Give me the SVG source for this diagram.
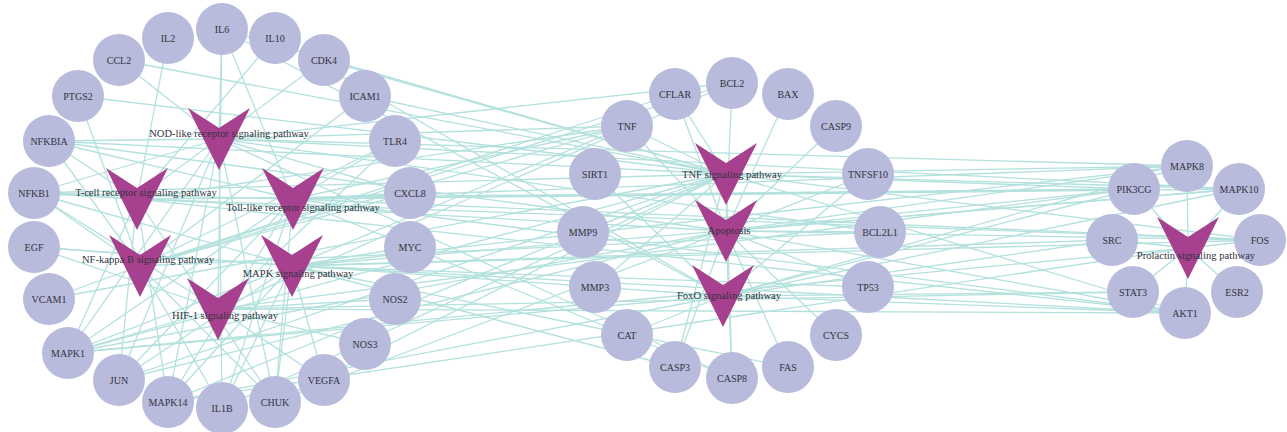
<svg xmlns="http://www.w3.org/2000/svg" xmlns:xlink="http://www.w3.org/1999/xlink" width="1287" height="432" viewBox="0 0 1287 432">
<style>
.e line{stroke:#b3e1dd;stroke-width:1.3;fill:none}
.g circle{fill:#b8bbdc;stroke:none}
.g text{font-family:"Liberation Serif",serif;font-size:10px;fill:#33333d;text-anchor:middle}
.p use{fill:#a7418f}
.p text{font-family:"Liberation Serif",serif;font-size:10.6px;fill:#33333d;text-anchor:middle}
</style>
<defs>
<path id="vee" d="M-31,-31 L0,-11 L31,-31 L0,31 Z" fill="#a7418f"/>
</defs>
<rect width="1287" height="432" fill="#ffffff"/>
<g id="connectors" class="e">
<line x1="222" y1="29" x2="219" y2="139"/><line x1="222" y1="408" x2="219" y2="139"/><line x1="119" y1="60" x2="219" y2="139"/><line x1="410" y1="193" x2="219" y2="139"/><line x1="627" y1="126" x2="219" y2="139"/><line x1="34" y1="193" x2="219" y2="139"/><line x1="49" y1="141" x2="219" y2="139"/><line x1="275" y1="402" x2="219" y2="139"/><line x1="68" y1="353" x2="219" y2="139"/><line x1="168" y1="402" x2="219" y2="139"/><line x1="1187" y1="166" x2="219" y2="139"/><line x1="1239" y1="189" x2="219" y2="139"/><line x1="119" y1="380" x2="219" y2="139"/><line x1="732" y1="83" x2="219" y2="139"/><line x1="880" y1="232" x2="219" y2="139"/><line x1="732" y1="378" x2="219" y2="139"/>
<line x1="168" y1="38" x2="137" y2="199"/><line x1="275" y1="38" x2="137" y2="199"/><line x1="627" y1="126" x2="137" y2="199"/><line x1="34" y1="193" x2="137" y2="199"/><line x1="49" y1="141" x2="137" y2="199"/><line x1="275" y1="402" x2="137" y2="199"/><line x1="68" y1="353" x2="137" y2="199"/><line x1="168" y1="402" x2="137" y2="199"/><line x1="119" y1="380" x2="137" y2="199"/><line x1="1260" y1="240" x2="137" y2="199"/><line x1="1185" y1="313" x2="137" y2="199"/><line x1="1134" y1="189" x2="137" y2="199"/><line x1="324" y1="60" x2="137" y2="199"/>
<line x1="222" y1="29" x2="293" y2="199"/><line x1="222" y1="408" x2="293" y2="199"/><line x1="627" y1="126" x2="293" y2="199"/><line x1="410" y1="193" x2="293" y2="199"/><line x1="395" y1="141" x2="293" y2="199"/><line x1="34" y1="193" x2="293" y2="199"/><line x1="49" y1="141" x2="293" y2="199"/><line x1="275" y1="402" x2="293" y2="199"/><line x1="68" y1="353" x2="293" y2="199"/><line x1="168" y1="402" x2="293" y2="199"/><line x1="1187" y1="166" x2="293" y2="199"/><line x1="1239" y1="189" x2="293" y2="199"/><line x1="119" y1="380" x2="293" y2="199"/><line x1="1260" y1="240" x2="293" y2="199"/><line x1="1185" y1="313" x2="293" y2="199"/><line x1="1134" y1="189" x2="293" y2="199"/><line x1="732" y1="378" x2="293" y2="199"/>
<line x1="627" y1="126" x2="140" y2="266"/><line x1="222" y1="408" x2="140" y2="266"/><line x1="410" y1="193" x2="140" y2="266"/><line x1="395" y1="141" x2="140" y2="266"/><line x1="34" y1="193" x2="140" y2="266"/><line x1="49" y1="141" x2="140" y2="266"/><line x1="275" y1="402" x2="140" y2="266"/><line x1="49" y1="299" x2="140" y2="266"/><line x1="365" y1="96" x2="140" y2="266"/><line x1="78" y1="96" x2="140" y2="266"/><line x1="732" y1="83" x2="140" y2="266"/><line x1="880" y1="232" x2="140" y2="266"/><line x1="675" y1="94" x2="140" y2="266"/>
<line x1="34" y1="247" x2="292" y2="266"/><line x1="627" y1="126" x2="292" y2="266"/><line x1="222" y1="408" x2="292" y2="266"/><line x1="68" y1="353" x2="292" y2="266"/><line x1="1187" y1="166" x2="292" y2="266"/><line x1="1239" y1="189" x2="292" y2="266"/><line x1="168" y1="402" x2="292" y2="266"/><line x1="119" y1="380" x2="292" y2="266"/><line x1="1260" y1="240" x2="292" y2="266"/><line x1="34" y1="193" x2="292" y2="266"/><line x1="275" y1="402" x2="292" y2="266"/><line x1="675" y1="367" x2="292" y2="266"/><line x1="1185" y1="313" x2="292" y2="266"/><line x1="324" y1="380" x2="292" y2="266"/><line x1="410" y1="247" x2="292" y2="266"/><line x1="868" y1="287" x2="292" y2="266"/><line x1="788" y1="367" x2="292" y2="266"/><line x1="1112" y1="240" x2="292" y2="266"/>
<line x1="34" y1="247" x2="218" y2="309"/><line x1="324" y1="380" x2="218" y2="309"/><line x1="395" y1="299" x2="218" y2="309"/><line x1="365" y1="344" x2="218" y2="309"/><line x1="222" y1="29" x2="218" y2="309"/><line x1="395" y1="141" x2="218" y2="309"/><line x1="34" y1="193" x2="218" y2="309"/><line x1="68" y1="353" x2="218" y2="309"/><line x1="1185" y1="313" x2="218" y2="309"/><line x1="1133" y1="292" x2="218" y2="309"/><line x1="732" y1="83" x2="218" y2="309"/><line x1="1134" y1="189" x2="218" y2="309"/>
<line x1="627" y1="126" x2="726" y2="174"/><line x1="222" y1="29" x2="726" y2="174"/><line x1="222" y1="408" x2="726" y2="174"/><line x1="119" y1="60" x2="726" y2="174"/><line x1="365" y1="96" x2="726" y2="174"/><line x1="49" y1="299" x2="726" y2="174"/><line x1="78" y1="96" x2="726" y2="174"/><line x1="583" y1="232" x2="726" y2="174"/><line x1="595" y1="287" x2="726" y2="174"/><line x1="34" y1="193" x2="726" y2="174"/><line x1="49" y1="141" x2="726" y2="174"/><line x1="275" y1="402" x2="726" y2="174"/><line x1="68" y1="353" x2="726" y2="174"/><line x1="1187" y1="166" x2="726" y2="174"/><line x1="1239" y1="189" x2="726" y2="174"/><line x1="168" y1="402" x2="726" y2="174"/><line x1="119" y1="380" x2="726" y2="174"/><line x1="1260" y1="240" x2="726" y2="174"/><line x1="1185" y1="313" x2="726" y2="174"/><line x1="1134" y1="189" x2="726" y2="174"/><line x1="675" y1="367" x2="726" y2="174"/><line x1="732" y1="378" x2="726" y2="174"/><line x1="675" y1="94" x2="726" y2="174"/><line x1="324" y1="60" x2="726" y2="174"/>
<line x1="627" y1="126" x2="726" y2="231"/><line x1="868" y1="174" x2="726" y2="231"/><line x1="788" y1="367" x2="726" y2="231"/><line x1="675" y1="367" x2="726" y2="231"/><line x1="732" y1="378" x2="726" y2="231"/><line x1="836" y1="126" x2="726" y2="231"/><line x1="788" y1="94" x2="726" y2="231"/><line x1="732" y1="83" x2="726" y2="231"/><line x1="880" y1="232" x2="726" y2="231"/><line x1="675" y1="94" x2="726" y2="231"/><line x1="836" y1="335" x2="726" y2="231"/><line x1="868" y1="287" x2="726" y2="231"/><line x1="34" y1="193" x2="726" y2="231"/><line x1="49" y1="141" x2="726" y2="231"/><line x1="275" y1="402" x2="726" y2="231"/><line x1="1185" y1="313" x2="726" y2="231"/><line x1="1134" y1="189" x2="726" y2="231"/><line x1="68" y1="353" x2="726" y2="231"/><line x1="1187" y1="166" x2="726" y2="231"/><line x1="1239" y1="189" x2="726" y2="231"/><line x1="119" y1="380" x2="726" y2="231"/><line x1="1260" y1="240" x2="726" y2="231"/>
<line x1="34" y1="247" x2="723" y2="296"/><line x1="222" y1="29" x2="723" y2="296"/><line x1="275" y1="38" x2="723" y2="296"/><line x1="868" y1="174" x2="723" y2="296"/><line x1="595" y1="174" x2="723" y2="296"/><line x1="627" y1="335" x2="723" y2="296"/><line x1="68" y1="353" x2="723" y2="296"/><line x1="1187" y1="166" x2="723" y2="296"/><line x1="1239" y1="189" x2="723" y2="296"/><line x1="168" y1="402" x2="723" y2="296"/><line x1="1185" y1="313" x2="723" y2="296"/><line x1="1134" y1="189" x2="723" y2="296"/><line x1="1133" y1="292" x2="723" y2="296"/><line x1="1112" y1="240" x2="723" y2="296"/>
<line x1="1187" y1="166" x2="1188" y2="248"/><line x1="1239" y1="189" x2="1188" y2="248"/><line x1="68" y1="353" x2="1188" y2="248"/><line x1="168" y1="402" x2="1188" y2="248"/><line x1="1112" y1="240" x2="1188" y2="248"/><line x1="1260" y1="240" x2="1188" y2="248"/><line x1="1133" y1="292" x2="1188" y2="248"/><line x1="1237" y1="292" x2="1188" y2="248"/><line x1="1185" y1="313" x2="1188" y2="248"/><line x1="1134" y1="189" x2="1188" y2="248"/>
</g>
<g class="g">
<g id="n-IL6"><circle cx="222" cy="29" r="26"/><text x="222" y="32.5">IL6</text></g>
<g id="n-IL10"><circle cx="275" cy="38" r="26"/><text x="275" y="41.5">IL10</text></g>
<g id="n-CDK4"><circle cx="324" cy="60" r="26"/><text x="324" y="63.5">CDK4</text></g>
<g id="n-ICAM1"><circle cx="365" cy="96" r="26"/><text x="365" y="99.5">ICAM1</text></g>
<g id="n-TLR4"><circle cx="395" cy="141" r="26"/><text x="395" y="144.5">TLR4</text></g>
<g id="n-CXCL8"><circle cx="410" cy="193" r="26"/><text x="410" y="196.5">CXCL8</text></g>
<g id="n-MYC"><circle cx="410" cy="247" r="26"/><text x="410" y="250.5">MYC</text></g>
<g id="n-NOS2"><circle cx="395" cy="299" r="26"/><text x="395" y="302.5">NOS2</text></g>
<g id="n-NOS3"><circle cx="365" cy="344" r="26"/><text x="365" y="347.5">NOS3</text></g>
<g id="n-VEGFA"><circle cx="324" cy="380" r="26"/><text x="324" y="383.5">VEGFA</text></g>
<g id="n-CHUK"><circle cx="275" cy="402" r="26"/><text x="275" y="405.5">CHUK</text></g>
<g id="n-IL1B"><circle cx="222" cy="408" r="26"/><text x="222" y="411.5">IL1B</text></g>
<g id="n-MAPK14"><circle cx="168" cy="402" r="26"/><text x="168" y="405.5">MAPK14</text></g>
<g id="n-JUN"><circle cx="119" cy="380" r="26"/><text x="119" y="383.5">JUN</text></g>
<g id="n-MAPK1"><circle cx="68" cy="353" r="26"/><text x="68" y="356.5">MAPK1</text></g>
<g id="n-VCAM1"><circle cx="49" cy="299" r="26"/><text x="49" y="302.5">VCAM1</text></g>
<g id="n-EGF"><circle cx="34" cy="247" r="26"/><text x="34" y="250.5">EGF</text></g>
<g id="n-NFKB1"><circle cx="34" cy="193" r="26"/><text x="34" y="196.5">NFKB1</text></g>
<g id="n-NFKBIA"><circle cx="49" cy="141" r="26"/><text x="49" y="144.5">NFKBIA</text></g>
<g id="n-PTGS2"><circle cx="78" cy="96" r="26"/><text x="78" y="99.5">PTGS2</text></g>
<g id="n-CCL2"><circle cx="119" cy="60" r="26"/><text x="119" y="63.5">CCL2</text></g>
<g id="n-IL2"><circle cx="168" cy="38" r="26"/><text x="168" y="41.5">IL2</text></g>
<g id="n-TNF"><circle cx="627" cy="126" r="26"/><text x="627" y="129.5">TNF</text></g>
<g id="n-CFLAR"><circle cx="675" cy="94" r="26"/><text x="675" y="97.5">CFLAR</text></g>
<g id="n-BCL2"><circle cx="732" cy="83" r="26"/><text x="732" y="86.5">BCL2</text></g>
<g id="n-BAX"><circle cx="788" cy="94" r="26"/><text x="788" y="97.5">BAX</text></g>
<g id="n-CASP9"><circle cx="836" cy="126" r="26"/><text x="836" y="129.5">CASP9</text></g>
<g id="n-TNFSF10"><circle cx="868" cy="174" r="26"/><text x="868" y="177.5">TNFSF10</text></g>
<g id="n-BCL2L1"><circle cx="880" cy="232" r="26"/><text x="880" y="235.5">BCL2L1</text></g>
<g id="n-TP53"><circle cx="868" cy="287" r="26"/><text x="868" y="290.5">TP53</text></g>
<g id="n-CYCS"><circle cx="836" cy="335" r="26"/><text x="836" y="338.5">CYCS</text></g>
<g id="n-FAS"><circle cx="788" cy="367" r="26"/><text x="788" y="370.5">FAS</text></g>
<g id="n-CASP8"><circle cx="732" cy="378" r="26"/><text x="732" y="381.5">CASP8</text></g>
<g id="n-CASP3"><circle cx="675" cy="367" r="26"/><text x="675" y="370.5">CASP3</text></g>
<g id="n-CAT"><circle cx="627" cy="335" r="26"/><text x="627" y="338.5">CAT</text></g>
<g id="n-MMP3"><circle cx="595" cy="287" r="26"/><text x="595" y="290.5">MMP3</text></g>
<g id="n-MMP9"><circle cx="583" cy="232" r="26"/><text x="583" y="235.5">MMP9</text></g>
<g id="n-SIRT1"><circle cx="595" cy="174" r="26"/><text x="595" y="177.5">SIRT1</text></g>
<g id="n-MAPK8"><circle cx="1187" cy="166" r="26"/><text x="1187" y="169.5">MAPK8</text></g>
<g id="n-MAPK10"><circle cx="1239" cy="189" r="26"/><text x="1239" y="192.5">MAPK10</text></g>
<g id="n-PIK3CG"><circle cx="1134" cy="189" r="26"/><text x="1134" y="192.5">PIK3CG</text></g>
<g id="n-SRC"><circle cx="1112" cy="240" r="26"/><text x="1112" y="243.5">SRC</text></g>
<g id="n-FOS"><circle cx="1260" cy="240" r="26"/><text x="1260" y="243.5">FOS</text></g>
<g id="n-STAT3"><circle cx="1133" cy="292" r="26"/><text x="1133" y="295.5">STAT3</text></g>
<g id="n-ESR2"><circle cx="1237" cy="292" r="26"/><text x="1237" y="295.5">ESR2</text></g>
<g id="n-AKT1"><circle cx="1185" cy="313" r="26"/><text x="1185" y="316.5">AKT1</text></g>
</g>
<g class="p">
<g id="p-nod"><use xlink:href="#vee" href="#vee" x="219" y="139"/><text x="229" y="137">NOD-like receptor signaling pathway</text></g>
<g id="p-tcr"><use xlink:href="#vee" href="#vee" x="137" y="199"/><text x="146" y="196">T-cell receptor signaling pathway</text></g>
<g id="p-tlr"><use xlink:href="#vee" href="#vee" x="293" y="199"/><text x="303" y="211">Toll-like receptor signaling pathway</text></g>
<g id="p-nfkb"><use xlink:href="#vee" href="#vee" x="140" y="266"/><text x="148" y="263">NF-kappa B signaling pathway</text></g>
<g id="p-mapk"><use xlink:href="#vee" href="#vee" x="292" y="266"/><text x="298" y="277">MAPK signaling pathway</text></g>
<g id="p-hif"><use xlink:href="#vee" href="#vee" x="218" y="309"/><text x="225" y="319">HIF-1 signaling pathway</text></g>
<g id="p-tnf"><use xlink:href="#vee" href="#vee" x="726" y="174"/><text x="732" y="178">TNF signaling pathway</text></g>
<g id="p-apop"><use xlink:href="#vee" href="#vee" x="726" y="231"/><text x="729" y="234">Apoptosis</text></g>
<g id="p-foxo"><use xlink:href="#vee" href="#vee" x="723" y="296"/><text x="729" y="299">FoxO signaling pathway</text></g>
<g id="p-prl"><use xlink:href="#vee" href="#vee" x="1188" y="248"/><text x="1196" y="259">Prolactin signaling pathway</text></g>
</g>
</svg>
